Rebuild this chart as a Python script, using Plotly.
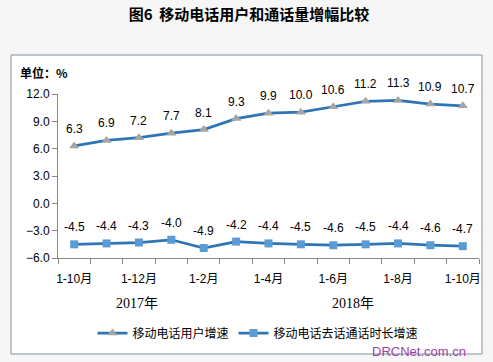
import plotly.graph_objects as go

categories = ["1-10月", "1-11月", "1-12月", "1月", "1-2月", "1-3月", "1-4月",
              "1-5月", "1-6月", "1-7月", "1-8月", "1-9月", "1-10月"]
shown_labels = ["1-10月", "", "1-12月", "", "1-2月", "", "1-4月",
                "", "1-6月", "", "1-8月", "", "1-10月"]
years = ["2017年", "2018年"]
users_growth = [6.3, 6.9, 7.2, 7.7, 8.1, 9.3, 9.9, 10.0, 10.6, 11.2, 11.3, 10.9, 10.7]
call_growth = [-4.5, -4.4, -4.3, -4.0, -4.9, -4.2, -4.4, -4.5, -4.6, -4.5, -4.4, -4.6, -4.7]
series_names = ["移动电话用户增速", "移动电话去话通话时长增速"]

W, H = 493, 362
L, R, T, B = 58, 479, 94, 258
def px(x):
    return (x - L) / (R - L)
def py(y):
    return (B - y) / (B - T)

idx = list(range(len(categories)))
line_color = "#2E75B6"
font_main = "Liberation Sans, Noto Sans CJK SC"
bg = "#F6F6F6"

fig = go.Figure()
fig.add_trace(go.Scatter(
    x=idx, y=users_growth, name=series_names[0], mode="lines+markers",
    line=dict(color=line_color, width=2.75),
    marker=dict(symbol="triangle-up", size=9, color="#A5A5A5"),
))
fig.add_trace(go.Scatter(
    x=idx, y=call_growth, name=series_names[1], mode="lines+markers",
    line=dict(color=line_color, width=2.75),
    marker=dict(symbol="square", size=8, color="#5B9BD5"),
))

annotations = []
for series in (users_growth, call_growth):
    for i, v in zip(idx, series):
        annotations.append(dict(
            x=i, y=v, xref="x", yref="y", text=f"{v:.1f}", showarrow=False,
            yshift=17, font=dict(family=font_main, size=12, color="#000000")))

def paper_text(x, y, text, font, xanchor="center"):
    return dict(x=px(x), y=py(y), xref="paper", yref="paper", text=text,
                showarrow=False, xanchor=xanchor, yanchor="middle", font=font)

year_font = dict(family="Liberation Serif, Noto Sans CJK SC", size=14, color="#000")
annotations.append(paper_text(137, 303, years[0], year_font))
annotations.append(paper_text(353, 303, years[1], year_font))
annotations.append(paper_text(18, 72, "<b>单位：%</b>",
                              dict(family="Noto Sans CJK SC", size=12, color="#000"),
                              xanchor="left"))
annotations.append(paper_text(419, 351, "DRCNet.com.cn",
                              dict(family="Liberation Sans", size=13, color="#9B3FA3")))

fig.update_layout(
    width=W, height=H,
    margin=dict(l=L, r=W - R, t=T, b=H - B),
    paper_bgcolor=bg, plot_bgcolor="#FFFFFF",
    title=dict(text="<b>图6  移动电话用户和通话量增幅比较</b>",
               x=0.505, xanchor="center", y=1 - 15 / H, yanchor="middle",
               font=dict(family="Noto Sans CJK SC", size=15, color="#000")),
    showlegend=True,
    legend=dict(orientation="h", x=px(258), xanchor="center", y=py(333),
                yanchor="middle", font=dict(family="Noto Sans CJK SC", size=12, color="#000"),
                bgcolor="rgba(0,0,0,0)", itemwidth=30),
    annotations=annotations,
    shapes=[dict(type="rect", xref="paper", yref="paper",
                 x0=px(11), x1=px(482), y0=py(354), y1=py(55),
                 line=dict(color="#7F929C", width=1), fillcolor="#FFFFFF",
                 layer="below")],
)

fig.update_xaxes(
    range=[-0.5, len(categories) - 0.5],
    tickmode="array", tickvals=idx, ticktext=shown_labels,
    ticks="", showgrid=False, zeroline=False,
    showline=True, linecolor="#868686", linewidth=1,
    ticklabelstandoff=10,
    tickfont=dict(family=font_main, size=12, color="#000"),
    minor=dict(tickmode="linear", tick0=-0.5, dtick=1, ticks="outside",
               ticklen=5, tickcolor="#868686", showgrid=False),
)
fig.update_yaxes(
    range=[-6, 12], tickmode="linear", tick0=-6, dtick=3, tickformat=".1f",
    ticks="outside", ticklen=5, tickcolor="#868686",
    showgrid=False, zeroline=False,
    showline=True, linecolor="#868686", linewidth=1,
    tickfont=dict(family=font_main, size=12, color="#000"),
)

fig.write_html(
    "out.html",
    config={"displayModeBar": False},
    post_script="document.body.style.margin='0';document.body.style.background='%s';" % bg,
)
